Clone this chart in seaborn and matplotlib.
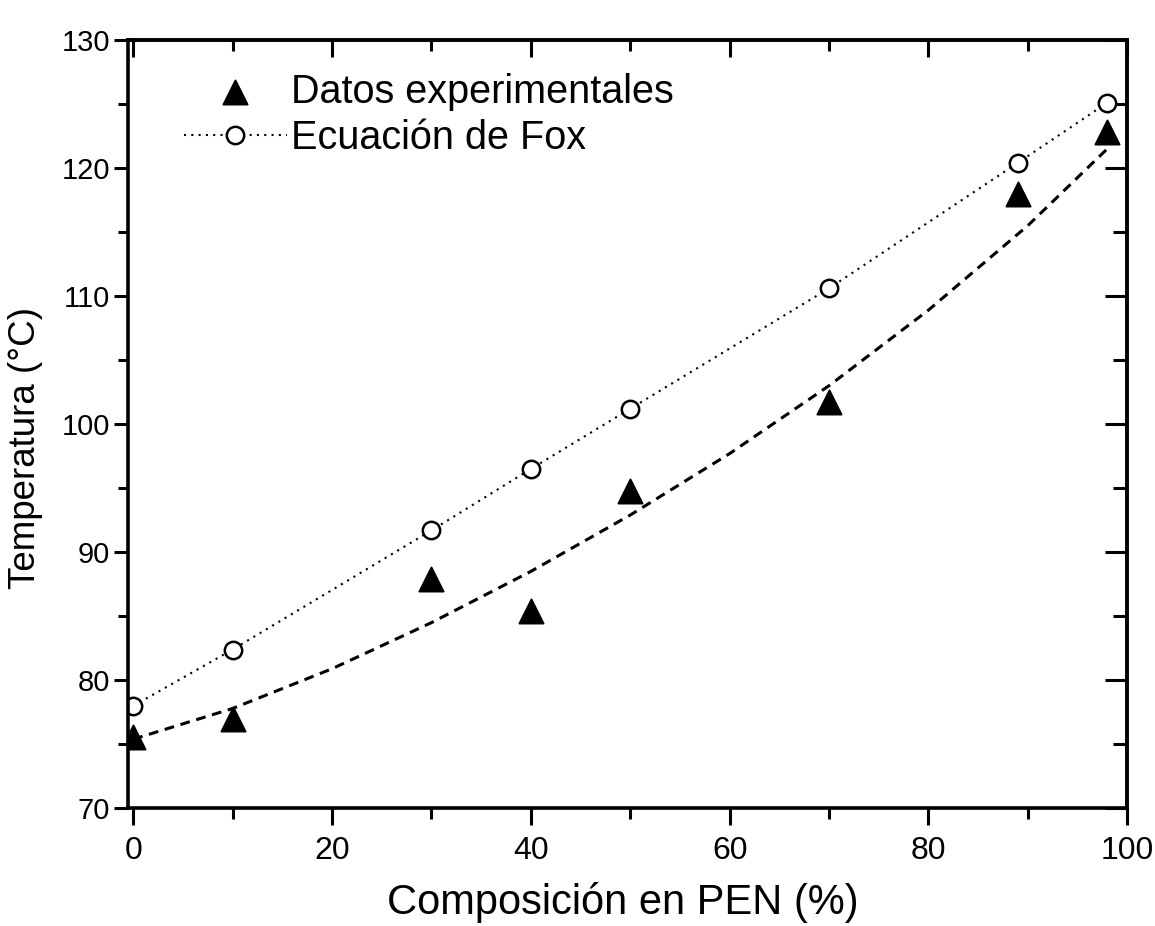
import matplotlib
matplotlib.use("Agg")
import matplotlib.pyplot as plt
import seaborn as sns
import pandas as pd
from matplotlib.ticker import MultipleLocator

# Data
comp_exp = [0, 10, 30, 40, 50, 70, 89, 98]
temp_exp = [75.6, 77.0, 87.9, 85.4, 94.8, 101.7, 118.0, 122.8]

comp_fox = [0, 10, 30, 40, 50, 70, 89, 98]
temp_fox = [78.0, 82.4, 91.7, 96.5, 101.2, 110.6, 120.4, 125.1]

comp_fit = [0, 10, 20, 30, 40, 50, 60, 70, 80, 90, 98]
temp_fit = [75.4, 77.8, 80.9, 84.5, 88.5, 92.9, 97.7, 103.0, 108.9, 115.5, 121.5]

sns.set_style("ticks")
plt.rcParams['font.family'] = ['Liberation Sans', 'DejaVu Sans']
for k in ['text.color', 'axes.labelcolor', 'xtick.color', 'ytick.color', 'axes.edgecolor']:
    plt.rcParams[k] = 'black'

fig = plt.figure(figsize=(11.55, 9.26), dpi=100)
ax = fig.add_axes([0.111, 0.127, 0.865, 0.83])

df_exp = pd.DataFrame({"x": comp_exp, "y": temp_exp})
df_fox = pd.DataFrame({"x": comp_fox, "y": temp_fox})
df_fit = pd.DataFrame({"x": comp_fit, "y": temp_fit})

sns.lineplot(data=df_fit, x="x", y="y", ax=ax, color="black", lw=2.2,
             linestyle=(0, (3.2, 2.2)), label="_nolegend_", sort=True)
sns.lineplot(data=df_fox, x="x", y="y", ax=ax, color="black", lw=1.5,
             linestyle=(0, (1, 2.5)), marker="o", markersize=12.5,
             markerfacecolor="white", markeredgecolor="black",
             markeredgewidth=1.8, label="Ecuación de Fox")
sns.scatterplot(data=df_exp, x="x", y="y", ax=ax, marker="^", s=300,
                color="black", edgecolor="black", zorder=5,
                label="Datos experimentales")

ax.set_xlim(-0.5, 100)
ax.set_ylim(70, 130)
ax.xaxis.set_major_locator(MultipleLocator(20))
ax.xaxis.set_minor_locator(MultipleLocator(10))
ax.yaxis.set_major_locator(MultipleLocator(10))
ax.yaxis.set_minor_locator(MultipleLocator(5))

for s in ax.spines.values():
    s.set_linewidth(2.6)
    s.set_visible(True)
    s.set_color("black")

ax.tick_params(axis='x', which='both', direction='out', bottom=True, top=False,
               width=2.2, labelsize=23, pad=8, colors="black")
ax.tick_params(axis='x', which='major', length=12)
ax.tick_params(axis='x', which='minor', length=8)
ax.tick_params(axis='y', which='both', direction='out', left=True, right=False,
               width=2.2, labelsize=21, pad=3, colors="black")
ax.tick_params(axis='y', which='major', length=10)
ax.tick_params(axis='y', which='minor', length=7)
for lab in ax.get_yticklabels():
    lab.set_family(['Liberation Sans Narrow', 'Liberation Sans'])

# inward ticks on right/top
ax2 = ax.secondary_yaxis('right')
ax2.yaxis.set_major_locator(MultipleLocator(10))
ax2.yaxis.set_minor_locator(MultipleLocator(5))
ax2.tick_params(which='both', direction='in', width=2.2, labelright=False, colors="black")
ax2.tick_params(which='major', length=16)
ax2.tick_params(which='minor', length=10)
ax2.spines['right'].set_linewidth(2.6)
ax2.spines['right'].set_color("black")
ax3 = ax.secondary_xaxis('top')
ax3.xaxis.set_major_locator(MultipleLocator(20))
ax3.xaxis.set_minor_locator(MultipleLocator(10))
ax3.tick_params(which='both', direction='in', width=2.2, labeltop=False, colors="black")
ax3.tick_params(which='major', length=12)
ax3.tick_params(which='minor', length=8)
ax3.spines['top'].set_linewidth(2.6)
ax3.spines['top'].set_color("black")

ax.set_xlabel("Composición en PEN (%)", fontsize=30)
ax.set_ylabel("Temperatura (°C)", fontsize=26.5)
ax.xaxis.label.set_va("baseline")
ax.xaxis.set_label_coords(0.4955, -0.137)
ax.yaxis.set_label_coords(-0.085, 0.469)

handles, labels = ax.get_legend_handles_labels()
order = [labels.index("Datos experimentales"), labels.index("Ecuación de Fox")]
ax.legend([handles[i] for i in order], [labels[i] for i in order],
          loc="upper left", bbox_to_anchor=(0.04, 0.978), frameon=False,
          fontsize=28.5, handlelength=2.6, handletextpad=0.1, labelspacing=0.22,
          borderaxespad=0)

fig.savefig("out.png", dpi=100)
